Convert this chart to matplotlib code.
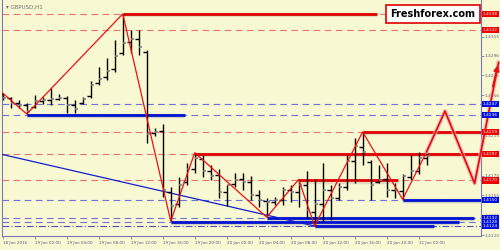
import matplotlib.pyplot as plt
import matplotlib.transforms as mtransforms

# GBPUSD H1 bars, 18 Jan 20:00 .. 21 Jan 01:00
highs = [1.4258, 1.4254, 1.4251, 1.4248, 1.4256, 1.4254, 1.4263, 1.4257, 1.4255, 1.4251,
         1.4254, 1.4270, 1.4284, 1.4294, 1.4312, 1.4338, 1.4322, 1.4322, 1.4302, 1.4223,
         1.4227, 1.4163, 1.4173, 1.4188, 1.4198, 1.4196, 1.4186, 1.4182, 1.4165, 1.4178,
         1.4178, 1.4175, 1.4160, 1.4152, 1.4153, 1.4163, 1.4165, 1.4171, 1.4180, 1.4170,
         1.4188, 1.4165, 1.4167, 1.4196, 1.4213, 1.4219, 1.4191, 1.4186, 1.4188, 1.4167,
         1.4177, 1.4196, 1.4199, 1.4199]
lows = [1.4251, 1.4243, 1.4243, 1.4237, 1.4243, 1.4247, 1.4246, 1.4251, 1.4238, 1.4238,
        1.4247, 1.4253, 1.4266, 1.4271, 1.4279, 1.4297, 1.4299, 1.4297, 1.4208, 1.4215,
        1.4153, 1.4129, 1.4143, 1.4165, 1.4178, 1.4173, 1.4170, 1.4152, 1.4144, 1.4163,
        1.4160, 1.4150, 1.4143, 1.4133, 1.4145, 1.4145, 1.4148, 1.4143, 1.4132, 1.4124,
        1.4128, 1.4130, 1.4150, 1.4160, 1.4167, 1.4186, 1.4150, 1.4167, 1.4153, 1.4152,
        1.4151, 1.4170, 1.4177, 1.4186]
opens = [1.4257, 1.4253, 1.4248, 1.4246, 1.4244, 1.4250, 1.4251, 1.4252, 1.4253, 1.4246,
         1.4248, 1.4255, 1.4268, 1.4274, 1.4282, 1.4299, 1.4310, 1.4313, 1.4300, 1.4218,
         1.4220, 1.4158, 1.4146, 1.4168, 1.4182, 1.4192, 1.4180, 1.4176, 1.4158, 1.4166,
         1.4171, 1.4168, 1.4155, 1.4149, 1.4148, 1.4150, 1.4160, 1.4158, 1.4165, 1.4138,
         1.4146, 1.4160, 1.4152, 1.4163, 1.4190, 1.4204, 1.4189, 1.4168, 1.4171, 1.4160,
         1.4159, 1.4174, 1.4180, 1.4193]
closes = [1.4253, 1.4248, 1.4246, 1.4240, 1.4250, 1.4251, 1.4252, 1.4253, 1.4246, 1.4242,
          1.4252, 1.4266, 1.4272, 1.4280, 1.4296, 1.4309, 1.4313, 1.4305, 1.4217, 1.4219,
          1.4160, 1.4144, 1.4165, 1.4182, 1.4193, 1.4180, 1.4175, 1.4158, 1.4165, 1.4170,
          1.4168, 1.4155, 1.4150, 1.4148, 1.4150, 1.4160, 1.4158, 1.4165, 1.4140, 1.4146,
          1.4160, 1.4152, 1.4163, 1.4190, 1.4205, 1.4199, 1.4165, 1.4170, 1.4160, 1.4160,
          1.4175, 1.4180, 1.4193, 1.4195]

# zigzag turning points (bar index, price)
zz_x = [0, 3, 15, 21, 24, 33, 37, 39, 45, 50, 53]
zz_y = [1.4258, 1.4237, 1.4338, 1.4129, 1.4198, 1.4133, 1.4171, 1.4124, 1.4219, 1.4151, 1.4199]

# forecast path
fc_x = [53, 55.3, 59.0, 62.0]
fc_y = [1.4199, 1.4240, 1.4167, 1.4289]

# trend line
tl_x = [-0.5, 39]
tl_y = [1.4197, 1.4124]

# dashed levels
red_levels = [1.4338, 1.4322, 1.4219, 1.4197, 1.4170]
blue_levels = [1.4247, 1.4236, 1.4150, 1.4132, 1.4128]
dashdot_level = 1.4124

# thick level segments: price, start bar, end bar
red_segs = [(1.4338, 15, 46.8), (1.4197, 24, 60), (1.4219, 45, 60), (1.4170, 37, 49.4)]
blue_segs = [(1.4236, 3, 22.8), (1.4150, 50, 60), (1.4132, 33, 58.9),
             (1.4128, 21, 57.0), (1.4124, 39, 53.9)]

# price boxes on the right
red_boxes = [1.4338, 1.4322, 1.4219, 1.4197, 1.4170]
blue_boxes = [1.4247, 1.4236, 1.4150, 1.4132, 1.4128, 1.4124]

yticks = [1.4315, 1.4296, 1.4276, 1.4256, 1.4236, 1.4215, 1.4195, 1.4175, 1.4155, 1.4135, 1.4115]
xtick_pos = [0, 4, 8, 12, 16, 20, 24, 28, 32, 36, 40, 44, 48, 52]
xtick_labels = ["18 Jan 2016", "19 Jan 00:00", "19 Jan 04:00", "19 Jan 08:00", "19 Jan 12:00",
                "19 Jan 16:00", "19 Jan 20:00", "20 Jan 00:00", "20 Jan 04:00", "20 Jan 08:00",
                "20 Jan 12:00", "20 Jan 16:00", "20 Jan 20:00", "21 Jan 00:00"]

bg = "#f8f8d2"
frame = "#7a7ab8"
txt = "#5a5a80"

fig = plt.figure(figsize=(5, 2.5), dpi=100)
fig.patch.set_facecolor(bg)
ax = fig.add_axes([0.004, 0.056, 0.958, 0.944])
ax.set_facecolor(bg)
ax.set_xlim(-0.1, 59.8)
ax.set_ylim(1.4114, 1.4352)

# dashed levels
for p in red_levels:
    ax.axhline(p, color="#f07070", lw=0.8, dashes=(6, 4), zorder=1)
for p in blue_levels:
    ax.axhline(p, color="#7070e0", lw=0.8, dashes=(6, 4), zorder=1)
ax.axhline(dashdot_level, color="#5050c0", lw=0.8, dashes=(6, 2, 1, 2), zorder=1)

# thick segments with soft shadow
for p, a, b in red_segs:
    ax.plot([a, b], [p - 0.00012, p - 0.00012], color="#c0a8a0", lw=3.2, alpha=0.35,
            solid_capstyle="butt", zorder=2)
    ax.plot([a, b], [p, p], color="#e00000", lw=2.0, solid_capstyle="butt", zorder=3)
for p, a, b in blue_segs:
    ax.plot([a, b], [p - 0.00012, p - 0.00012], color="#9090a8", lw=3.2, alpha=0.35,
            solid_capstyle="butt", zorder=2)
    ax.plot([a, b], [p, p], color="#0010d0", lw=2.0, solid_capstyle="butt", zorder=3)

# trend line
ax.plot(tl_x, tl_y, color="#1020d0", lw=0.9, zorder=4)

# bars
for i in range(len(highs)):
    ax.vlines(i, lows[i], highs[i], color="black", lw=1.0, zorder=5)
    ax.hlines(opens[i], i - 0.45, i, color="black", lw=1.0, zorder=5)
    ax.hlines(closes[i], i, i + 0.45, color="#808080", lw=1.2, zorder=5)

# zigzag
ax.plot(zz_x, zz_y, color="#f01010", lw=0.9, zorder=6)

# forecast
ax.plot(fc_x, fc_y, color="#f0b0b0", lw=3.0, alpha=0.7, zorder=6, clip_on=False)
ax.plot(fc_x, fc_y, color="#e81010", lw=1.3, zorder=7, clip_on=False)
ax.annotate("", xy=(fc_x[-1], fc_y[-1]), xytext=(61.2, 1.4262),
            arrowprops=dict(arrowstyle="-|>", color="#e81010", lw=1.3, mutation_scale=8),
            annotation_clip=False, zorder=7)

# axes styling
ax.spines["top"].set_visible(False)
for side in ["left", "right", "bottom"]:
    ax.spines[side].set_color(frame)
    ax.spines[side].set_linewidth(0.8)
ax.yaxis.tick_right()
ax.set_yticks(yticks)
ax.set_yticklabels([f"{v:.4f}" for v in yticks])
ax.tick_params(axis="y", colors=frame, labelcolor=txt, labelsize=3.1, length=2, width=0.6, pad=0.8)
ax.set_xticks(xtick_pos)
ax.set_xticklabels(xtick_labels, ha="left")
ax.tick_params(axis="x", colors=frame, labelcolor=txt, labelsize=3.0, length=2, width=0.6,
               pad=1.5, direction="out")

# price boxes
trans = mtransforms.blended_transform_factory(ax.transAxes, ax.transData)
for p in red_boxes:
    ax.text(1.004, p, f"{p:.4f}", transform=trans, fontsize=3.1, color="white",
            va="center", ha="left", zorder=10,
            bbox=dict(boxstyle="square,pad=0.25", fc="#f00000", ec="none"))
for p in blue_boxes:
    ax.text(1.004, p, f"{p:.4f}", transform=trans, fontsize=3.1, color="white",
            va="center", ha="left", zorder=10,
            bbox=dict(boxstyle="square,pad=0.25", fc="#0010e0", ec="none"))

# symbol caption and watermark
fig.text(0.012, 0.972, "\u25be GBPUSD,H1", fontsize=4, color="#707070", va="center", ha="left")
fig.text(0.866, 0.944, "Freshforex.com", fontsize=7, fontweight="bold", color="black",
         va="center", ha="center", zorder=11,
         bbox=dict(boxstyle="square,pad=0.45", fc="white", ec="#e00000", lw=1.2))

fig.savefig("out.png", dpi=100, facecolor=bg)
